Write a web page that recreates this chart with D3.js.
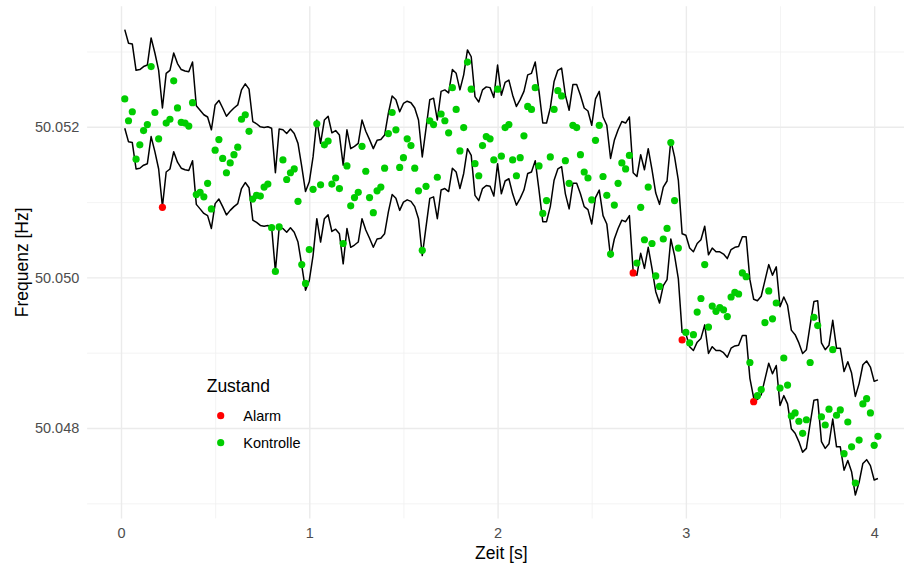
<!DOCTYPE html>
<html>
<head>
<meta charset="utf-8">
<script src="https://cdn.jsdelivr.net/npm/d3@7"></script>
<style>
  body { margin: 0; background: #ffffff; }
  svg { display: block; font-family: "Liberation Sans", Arial, Helvetica, sans-serif; }
</style>
</head>
<body>
<svg id="chart" width="904" height="567"></svg>
<script>
// Messzeitpunkte [s]
const zeit = [
  0.02,0.04,0.06,0.08,0.10,0.12,0.14,0.16,0.18,0.20,
  0.22,0.24,0.26,0.28,0.30,0.32,0.34,0.36,0.38,0.40,
  0.42,0.44,0.46,0.48,0.50,0.52,0.54,0.56,0.58,0.60,
  0.62,0.64,0.66,0.68,0.70,0.72,0.74,0.76,0.78,0.80,
  0.82,0.84,0.86,0.88,0.90,0.92,0.94,0.96,0.98,1.00,
  1.02,1.04,1.06,1.08,1.10,1.12,1.14,1.16,1.18,1.20,
  1.22,1.24,1.26,1.28,1.30,1.32,1.34,1.36,1.38,1.40,
  1.42,1.44,1.46,1.48,1.50,1.52,1.54,1.56,1.58,1.60,
  1.62,1.64,1.66,1.68,1.70,1.72,1.74,1.76,1.78,1.80,
  1.82,1.84,1.86,1.88,1.90,1.92,1.94,1.96,1.98,2.00,
  2.02,2.04,2.06,2.08,2.10,2.12,2.14,2.16,2.18,2.20,
  2.22,2.24,2.26,2.28,2.30,2.32,2.34,2.36,2.38,2.40,
  2.42,2.44,2.46,2.48,2.50,2.52,2.54,2.56,2.58,2.60,
  2.62,2.64,2.66,2.68,2.70,2.72,2.74,2.76,2.78,2.80,
  2.82,2.84,2.86,2.88,2.90,2.92,2.94,2.96,2.98,3.00,
  3.02,3.04,3.06,3.08,3.10,3.12,3.14,3.16,3.18,3.20,
  3.22,3.24,3.26,3.28,3.30,3.32,3.34,3.36,3.38,3.40,
  3.42,3.44,3.46,3.48,3.50,3.52,3.54,3.56,3.58,3.60,
  3.62,3.64,3.66,3.68,3.70,3.72,3.74,3.76,3.78,3.80,
  3.82,3.84,3.86,3.88,3.90,3.92,3.94,3.96,3.98,4.00,
  4.02
];

// Gemessene Frequenz [Hz]
const frequenz = [
  50.05237,50.05208,50.05220,50.05157,50.05176,50.05195,50.05203,50.05280,50.05219,50.05184,
  50.05093,50.05205,50.05210,50.05261,50.05225,50.05206,50.05205,50.05201,50.05232,50.05110,
  50.05113,50.05107,50.05125,50.05091,50.05169,50.05183,50.05158,50.05139,50.05152,50.05163,
  50.05173,50.05210,50.05216,50.05194,50.05104,50.05109,50.05108,50.05120,50.05124,50.05066,
  50.05008,50.05067,50.05156,50.05130,50.05139,50.05144,50.05101,50.05017,50.04992,50.05037,
  50.05117,50.05204,50.05123,50.05176,50.05181,50.05124,50.05132,50.05118,50.05045,50.05148,
  50.05095,50.05106,50.05113,50.05174,50.05141,50.05106,50.05086,50.05115,50.05120,50.05145,
  50.05191,50.05219,50.05196,50.05146,50.05159,50.05184,50.05175,50.05145,50.05115,50.05036,
  50.05121,50.05208,50.05203,50.05133,50.05217,50.05208,50.05192,50.05252,50.05223,50.05168,
  50.05199,50.05286,50.05250,50.05151,50.05135,50.05175,50.05187,50.05184,50.05156,50.05250,
  50.05161,50.05199,50.05203,50.05156,50.05135,50.05159,50.05188,50.05227,50.05223,50.05252,
  50.05148,50.05085,50.05102,50.05160,50.05223,50.05248,50.05241,50.05155,50.05125,50.05202,
  50.05199,50.05163,50.05140,50.05132,50.05103,50.05182,50.05202,50.05134,50.05109,50.05031,
  50.05096,50.05125,50.05152,50.05144,50.05162,50.05006,50.05019,50.05093,50.05050,50.05120,
  50.05045,50.05002,50.04988,50.05051,50.05065,50.05179,50.05102,50.05039,50.04917,50.04927,
  50.04913,50.04924,50.04954,50.04972,50.05017,50.04934,50.04962,50.04955,50.04960,50.04957,
  50.04948,50.04974,50.04980,50.04978,50.05006,50.05001,50.04887,50.04835,50.04843,50.04851,
  50.04940,50.04982,50.04945,50.04966,50.04853,50.04893,50.04857,50.04816,50.04820,50.04809,
  50.04793,50.04811,50.04887,50.04947,50.04936,50.04815,50.04804,50.04825,50.04904,50.04817,
  50.04824,50.04766,50.04808,50.04775,50.04727,50.04784,50.04832,50.04839,50.04820,50.04777,
  50.04789
];

// Obere Toleranzgrenze [Hz]
const obereGrenze = [
  50.05329,50.05311,50.05310,50.05275,50.05276,50.05280,50.05282,50.05318,50.05298,50.05275,
  50.05225,50.05271,50.05275,50.05298,50.05284,50.05276,50.05274,50.05273,50.05286,50.05228,
  50.05222,50.05216,50.05213,50.05196,50.05229,50.05235,50.05225,50.05214,50.05220,50.05225,
  50.05229,50.05249,50.05257,50.05250,50.05207,50.05204,50.05200,50.05199,50.05200,50.05198,
  50.05139,50.05197,50.05196,50.05191,50.05197,50.05191,50.05178,50.05147,50.05114,50.05127,
  50.05160,50.05209,50.05178,50.05209,50.05214,50.05192,50.05195,50.05189,50.05149,50.05196,
  50.05171,50.05174,50.05178,50.05209,50.05194,50.05183,50.05171,50.05182,50.05183,50.05189,
  50.05218,50.05241,50.05236,50.05220,50.05231,50.05234,50.05232,50.05225,50.05209,50.05160,
  50.05198,50.05236,50.05238,50.05209,50.05247,50.05249,50.05245,50.05276,50.05271,50.05249,
  50.05269,50.05302,50.05293,50.05240,50.05233,50.05249,50.05253,50.05252,50.05239,50.05282,
  50.05242,50.05259,50.05262,50.05242,50.05227,50.05236,50.05247,50.05269,50.05271,50.05286,
  50.05247,50.05205,50.05205,50.05225,50.05260,50.05275,50.05278,50.05242,50.05222,50.05256,
  50.05256,50.05242,50.05225,50.05221,50.05202,50.05237,50.05247,50.05213,50.05202,50.05158,
  50.05182,50.05196,50.05207,50.05205,50.05213,50.05139,50.05134,50.05163,50.05143,50.05171,
  50.05143,50.05112,50.05097,50.05120,50.05128,50.05182,50.05160,50.05129,50.05058,50.05056,
  50.05039,50.05034,50.05045,50.05050,50.05068,50.05030,50.05039,50.05034,50.05034,50.05031,
  50.05025,50.05037,50.05040,50.05041,50.05054,50.05054,50.04997,50.04971,50.04969,50.04975,
  50.04996,50.05017,50.05003,50.05014,50.04961,50.04974,50.04963,50.04930,50.04924,50.04913,
  50.04899,50.04904,50.04937,50.04968,50.04969,50.04913,50.04904,50.04910,50.04943,50.04906,
  50.04906,50.04875,50.04888,50.04873,50.04842,50.04859,50.04884,50.04889,50.04881,50.04862,
  50.04864
];

// Untere Toleranzgrenze [Hz]
const untereGrenze = [
  50.05198,50.05180,50.05179,50.05144,50.05145,50.05149,50.05151,50.05187,50.05167,50.05144,
  50.05094,50.05140,50.05144,50.05167,50.05153,50.05145,50.05143,50.05142,50.05155,50.05097,
  50.05091,50.05085,50.05082,50.05065,50.05098,50.05104,50.05094,50.05083,50.05089,50.05094,
  50.05098,50.05118,50.05126,50.05119,50.05076,50.05073,50.05069,50.05068,50.05069,50.05067,
  50.05008,50.05066,50.05065,50.05060,50.05066,50.05060,50.05047,50.05016,50.04983,50.04996,
  50.05029,50.05078,50.05047,50.05078,50.05083,50.05061,50.05064,50.05058,50.05018,50.05065,
  50.05040,50.05043,50.05047,50.05078,50.05063,50.05052,50.05040,50.05051,50.05052,50.05058,
  50.05087,50.05110,50.05105,50.05089,50.05100,50.05103,50.05101,50.05094,50.05078,50.05029,
  50.05067,50.05105,50.05107,50.05078,50.05116,50.05118,50.05114,50.05145,50.05140,50.05118,
  50.05138,50.05171,50.05162,50.05109,50.05102,50.05118,50.05122,50.05121,50.05108,50.05151,
  50.05111,50.05128,50.05131,50.05111,50.05096,50.05105,50.05116,50.05138,50.05140,50.05155,
  50.05116,50.05074,50.05074,50.05094,50.05129,50.05144,50.05147,50.05111,50.05091,50.05125,
  50.05125,50.05111,50.05094,50.05090,50.05071,50.05106,50.05116,50.05082,50.05071,50.05027,
  50.05051,50.05065,50.05076,50.05074,50.05082,50.05008,50.05003,50.05032,50.05012,50.05040,
  50.05012,50.04981,50.04966,50.04989,50.04997,50.05051,50.05029,50.04998,50.04927,50.04925,
  50.04908,50.04903,50.04914,50.04919,50.04937,50.04899,50.04908,50.04903,50.04903,50.04900,
  50.04894,50.04906,50.04909,50.04910,50.04923,50.04923,50.04866,50.04840,50.04838,50.04844,
  50.04865,50.04886,50.04872,50.04883,50.04830,50.04843,50.04832,50.04799,50.04793,50.04782,
  50.04768,50.04773,50.04806,50.04837,50.04838,50.04782,50.04773,50.04779,50.04812,50.04775,
  50.04775,50.04744,50.04757,50.04742,50.04711,50.04728,50.04753,50.04758,50.04750,50.04731,
  50.04733
];

// Zeitpunkte, an denen ein Alarm ausgelöst wurde [s]
const alarmZeiten = [0.22, 2.72, 2.98, 3.36];

const zustaende = ["Alarm", "Kontrolle"];
const zustandFarben = ["#FF0000", "#00CD00"];

const xTicks = [0, 1, 2, 3, 4];
const xTicksMinor = [0.5, 1.5, 2.5, 3.5];
const yTicks = [50.048, 50.050, 50.052];
const yTicksMinor = [50.047, 50.049, 50.051, 50.053];

// ---------------------------------------------------------------------------

const messungen = zeit.map((t, i) => ({
  t,
  f: frequenz[i],
  oben: obereGrenze[i],
  unten: untereGrenze[i],
  zustand: alarmZeiten.includes(t) ? "Alarm" : "Kontrolle"
}));

const svg = d3.select("#chart");
const panel = { left: 87.1, right: 915.6, top: 6.3, bottom: 518.4 };

const x = d3.scaleLinear().domain([-0.18, 4.22]).range([panel.left, panel.right]);
const y = d3.scaleLinear().domain([50.0468, 50.0536]).range([panel.bottom, panel.top]);
const farbe = d3.scaleOrdinal().domain(zustaende).range(zustandFarben);

const panelH = panel.bottom - panel.top;
const panelW = panel.right - panel.left;

// Gitterlinien (Neben- und Hauptlinien)
function gitter(g, axis, cls, color, width) {
  g.attr("class", cls).call(axis);
  g.select(".domain").remove();
  g.selectAll(".tick line").attr("stroke", color).attr("stroke-width", width);
  g.selectAll(".tick text").remove();
}

svg.append("g")
  .attr("transform", `translate(0,${panel.bottom})`)
  .call(g => gitter(g, d3.axisBottom(x).tickValues(xTicksMinor).tickSize(-panelH), "grid-x-minor", "#f0f0f0", 0.8));
svg.append("g")
  .attr("transform", `translate(${panel.left},0)`)
  .call(g => gitter(g, d3.axisLeft(y).tickValues(yTicksMinor).tickSize(-panelW), "grid-y-minor", "#f0f0f0", 0.8));
svg.append("g")
  .attr("transform", `translate(0,${panel.bottom})`)
  .call(g => gitter(g, d3.axisBottom(x).tickValues(xTicks).tickSize(-panelH), "grid-x", "#ebebeb", 1.4));
svg.append("g")
  .attr("transform", `translate(${panel.left},0)`)
  .call(g => gitter(g, d3.axisLeft(y).tickValues(yTicks).tickSize(-panelW), "grid-y", "#ebebeb", 1.4));

// Toleranzband
const linie = key => d3.line().x(d => x(d.t)).y(d => y(d[key]));
["oben", "unten"].forEach(key => {
  svg.append("path")
    .datum(messungen)
    .attr("fill", "none")
    .attr("stroke", "#000000")
    .attr("stroke-width", 1.5)
    .attr("stroke-linejoin", "round")
    .attr("d", linie(key));
});

// Messpunkte
svg.append("g")
  .selectAll("circle")
  .data(messungen)
  .join("circle")
  .attr("cx", d => x(d.t))
  .attr("cy", d => y(d.f))
  .attr("r", 3.6)
  .attr("fill", d => farbe(d.zustand));

// Achsen
const xAxis = svg.append("g")
  .attr("transform", `translate(0,${panel.bottom})`)
  .call(d3.axisBottom(x).tickValues(xTicks).tickFormat(d3.format("d")).tickSize(0).tickPadding(9.5));
const yAxis = svg.append("g")
  .attr("transform", `translate(${panel.left},0)`)
  .call(d3.axisLeft(y).tickValues(yTicks).tickFormat(d3.format(".3f")).tickSize(0).tickPadding(7.8));
[xAxis, yAxis].forEach(a => {
  a.select(".domain").remove();
  a.selectAll("text")
    .attr("fill", "#4d4d4d")
    .style("font-size", "14.5px")
    .style("font-family", "'Liberation Sans', Arial, Helvetica, sans-serif");
});

// Achsentitel
svg.append("text")
  .attr("x", (panel.left + panel.right) / 2)
  .attr("y", 558.5)
  .attr("text-anchor", "middle")
  .style("font-size", "17.5px")
  .attr("fill", "#000")
  .text("Zeit [s]");

svg.append("text")
  .attr("transform", `translate(27.5,${(panel.top + panel.bottom) / 2}) rotate(-90)`)
  .attr("text-anchor", "middle")
  .style("font-size", "17.5px")
  .attr("fill", "#000")
  .text("Frequenz [Hz]");

// Legende
const legende = svg.append("g").attr("class", "legende");
legende.append("text")
  .attr("x", 206.7)
  .attr("y", 391.7)
  .style("font-size", "17.5px")
  .attr("fill", "#000")
  .text("Zustand");

const eintrag = legende.selectAll("g.eintrag")
  .data(zustaende)
  .join("g")
  .attr("class", "eintrag")
  .attr("transform", (d, i) => `translate(0,${415.7 + i * 27})`);
eintrag.append("circle")
  .attr("cx", 220.7)
  .attr("cy", 0)
  .attr("r", 3.6)
  .attr("fill", d => farbe(d));
eintrag.append("text")
  .attr("x", 243.3)
  .attr("y", 5.3)
  .style("font-size", "14.5px")
  .attr("fill", "#000")
  .text(d => d);
</script>
</body>
</html>
